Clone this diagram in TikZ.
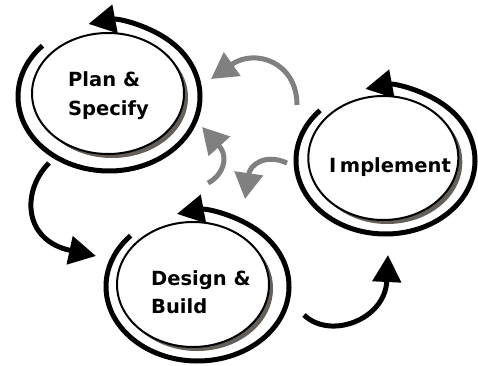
\documentclass[tikz,border=0pt]{standalone}
\usepackage{fontspec}
\setmainfont{DejaVu Sans}
\usetikzlibrary{arrows.meta,shapes.geometric}
\definecolor{shadowc}{RGB}{100,95,88}
\definecolor{arrgray}{RGB}{128,128,128}
\begin{document}
\begin{tikzpicture}[x=1pt,y=1pt,
  innerell/.style={ellipse, draw=black, line width=2pt, fill=white, inner sep=0pt},
  ring/.style={line width=5pt, -{Triangle[length=27pt,width=28pt]}},
  conn/.style={line width=5pt, -{Triangle[length=27pt,width=28pt]}},
  grayconn/.style={color=arrgray, line width=5pt, -{Triangle[length=26pt,width=28pt]}},
  lbl/.style={anchor=base west, inner sep=0pt, font=\fontsize{19.5}{23}\selectfont\bfseries}]
\useasboundingbox (0,0) rectangle (478,365);
% ring centres
\coordinate (planring) at (109,268.5);
\coordinate (implring) at (385.5,204.5);
\coordinate (desring) at (197.5,78.5);
% rings with arrowheads
\draw[ring] (planring) ++(137:91 and 74.5) arc[start angle=137, end angle=463, x radius=91, y radius=74.5];
\draw[ring] (implring) ++(137:89.5 and 73.5) arc[start angle=137, end angle=463, x radius=89.5, y radius=73.5];
\draw[ring] (desring) ++(137:91.5 and 74.5) arc[start angle=137, end angle=463, x radius=91.5, y radius=74.5];
% shadows
\fill[shadowc] (112,267.5) ellipse [x radius=76, y radius=60.5];
\fill[shadowc] (387.3,203) ellipse [x radius=75, y radius=62];
\fill[shadowc] (197,76.5) ellipse [x radius=76, y radius=62.5];
% inner ellipses
\node[innerell, minimum width=152pt, minimum height=121pt] (plan) at (108,271.5) {};
\node[innerell, minimum width=150pt, minimum height=124pt] (impl) at (383.3,207) {};
\node[innerell, minimum width=152pt, minimum height=125pt] (des) at (193,80.5) {};
% labels
\node[lbl] (planA) at (68,279) {Plan \&};
\node[lbl] (planB) at (68,250) {Specify};
\node[lbl] (desA) at (151,80) {Design \&};
\node[lbl] (desB) at (151,52) {Build};
\node[lbl] (implA) at (329,193) {I\kern3.5pt mplement};
% connector end points
\coordinate (c1s) at (49,202);
\coordinate (c1e) at (96,109);
\coordinate (c2s) at (304,50);
\coordinate (c2e) at (388,110);
\coordinate (gas) at (297,260);
\coordinate (gae) at (211,286);
\coordinate (gbs) at (208,182);
\coordinate (gbe) at (202,238);
\coordinate (gcs) at (287,202);
\coordinate (gce) at (245,166);
% black connectors
\draw[conn] (c1s) .. controls (22,175) and (22,125) .. (c1e);
\draw[conn] (c2s) .. controls (330,25) and (385,45) .. (c2e);
% gray connectors
\draw[grayconn] (gas) .. controls (297,303) and (255,317) .. (gae);
\draw[grayconn] (gbs) .. controls (222,189) and (230,207) .. (gbe);
\draw[grayconn] (gcs) .. controls (265,212) and (250,200) .. (gce);
\end{tikzpicture}
\end{document}
